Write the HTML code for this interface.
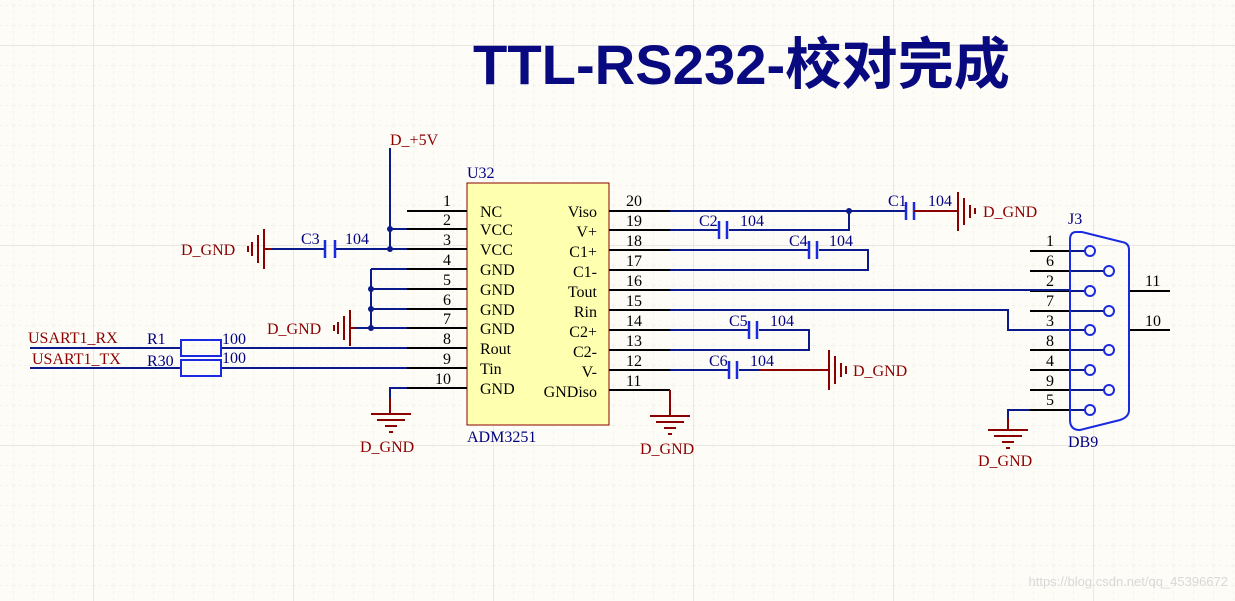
<!DOCTYPE html>
<html><head><meta charset="utf-8"><style>
html,body{margin:0;padding:0;background:#fdfcf7;}
svg{display:block}
.t{font-family:"Liberation Serif",serif;font-size:16px}
.n{fill:#000080}.r{fill:#8b0000}.k{fill:#000}
</style></head><body>
<svg width="1235" height="601" viewBox="0 0 1235 601" xmlns="http://www.w3.org/2000/svg">
<defs>
<pattern id="mg" x="13" y="5" width="20" height="20" patternUnits="userSpaceOnUse"><path d="M0 0H20M0 0V20" stroke="#ecebe4" stroke-width="1" stroke-dasharray="3 3" fill="none"/></pattern>
<pattern id="Mg" x="93" y="45" width="200" height="200" patternUnits="userSpaceOnUse"><path d="M0 0H200M0 0V200" stroke="#dddcd5" stroke-width="1.2" fill="none"/></pattern>
</defs>
<rect width="1235" height="601" fill="url(#mg)"/>
<rect width="1235" height="601" fill="url(#Mg)"/>
<text x="473" y="84" textLength="537" lengthAdjust="spacingAndGlyphs" style="font-family:'Liberation Sans','Noto Sans CJK SC',sans-serif;font-weight:bold;font-size:56px" fill="#0a0a80">TTL-RS232-校对完成</text>

<rect x="467" y="183" width="142" height="242" fill="#ffffb0" stroke="#8b0000" stroke-width="1"/>
<text x="467" y="178" class="t n">U32</text>
<text x="467" y="442" class="t n">ADM3251</text>
<g stroke="#000" stroke-width="2">
<path d="M407 211H467M407 229H467M407 249H467M407 269H467M407 289H467M407 309H467M407 328H467M407 348H467M407 368H467M407 388H467"/>
<path d="M609 211H670M609 230H670M609 250H670M609 270H670M609 290H670M609 310H670M609 330H670M609 350H670M609 370H670M609 390H670"/>
<path d="M1030 251H1070M1030 271H1070M1030 291H1070M1030 311H1070M1030 330H1070M1030 350H1070M1030 370H1070M1030 390H1070M1030 410H1070"/>
<path d="M1129 291H1170M1129 330H1170"/>
</g>
<g class="t k">
<text x="443" y="206">1</text><text x="443" y="225">2</text><text x="443" y="245">3</text><text x="443" y="265">4</text><text x="443" y="285">5</text><text x="443" y="305">6</text><text x="443" y="324">7</text><text x="443" y="344">8</text><text x="443" y="364">9</text><text x="435" y="384">10</text>
<text x="626" y="206">20</text><text x="626" y="226">19</text><text x="626" y="246">18</text><text x="626" y="266">17</text><text x="626" y="286">16</text><text x="626" y="306">15</text><text x="626" y="326">14</text><text x="626" y="346">13</text><text x="626" y="366">12</text><text x="626" y="386">11</text>
<text x="480" y="217">NC</text><text x="480" y="235">VCC</text><text x="480" y="255">VCC</text><text x="480" y="275">GND</text><text x="480" y="295">GND</text><text x="480" y="315">GND</text><text x="480" y="334">GND</text><text x="480" y="354">Rout</text><text x="480" y="374">Tin</text><text x="480" y="394">GND</text>
<g text-anchor="end"><text x="597" y="217">Viso</text><text x="597" y="237">V+</text><text x="597" y="257">C1+</text><text x="597" y="277">C1-</text><text x="597" y="297">Tout</text><text x="597" y="317">Rin</text><text x="597" y="337">C2+</text><text x="597" y="357">C2-</text><text x="597" y="377">V-</text><text x="597" y="397">GNDiso</text></g>
<text x="1046" y="246">1</text><text x="1046" y="266">6</text><text x="1046" y="286">2</text><text x="1046" y="306">7</text><text x="1046" y="326">3</text><text x="1046" y="346">8</text><text x="1046" y="366">4</text><text x="1046" y="386">9</text><text x="1046" y="405">5</text>
<text x="1145" y="286">11</text><text x="1145" y="326">10</text>
</g>

<g stroke="#0a1a8a" stroke-width="2" fill="none">
<path d="M390 148V249M390 229H407M335 249H407"/>
<path d="M371 269H407M371 269V328M371 289H407M371 309H407M355 328H407"/>
<path d="M30 348H181M221 348H407M30 368H181M221 368H407"/>
<path d="M407 388H390V398"/>
<path d="M670 211H906M849 211V230H729M670 230H719"/>
<path d="M670 250H809M819 250H868V270H670"/>
<path d="M670 290H1070M670 310H1008V330H1070"/>
<path d="M670 330H749M759 330H809V350H670"/>
<path d="M670 370H729M739 370H760"/>
<path d="M1030 410H1008V418"/>
<path d="M1070 251H1090M1070 271H1109M1070 291H1090M1070 311H1109M1070 330H1090M1070 350H1109M1070 370H1090M1070 390H1109M1070 410H1090"/>
<path d="M265 249H325"/>
</g>
<g fill="#0a1a8a"><circle cx="390" cy="229" r="3"/><circle cx="390" cy="249" r="3"/><circle cx="371" cy="289" r="3"/><circle cx="371" cy="309" r="3"/><circle cx="371" cy="328" r="3"/><circle cx="849" cy="211" r="3"/></g>

<g stroke="#1a2ae0" stroke-width="2.5">
<path d="M325 240V258M335 240V258"/>
<path d="M906 202V220M914 202V220"/>
<path d="M719 221V239M727 221V239"/>
<path d="M809 241V259M817 241V259"/>
<path d="M749 321V339M757 321V339"/>
<path d="M729 361V379M737 361V379"/>
</g>
<rect x="181" y="340" width="40" height="16" fill="none" stroke="#1a2ae0" stroke-width="2"/>
<rect x="181" y="360" width="40" height="16" fill="none" stroke="#1a2ae0" stroke-width="2"/>
<g class="t n">
<text x="301" y="244">C3</text><text x="345" y="244">104</text>
<text x="888" y="206">C1</text><text x="928" y="206">104</text>
<text x="699" y="226">C2</text><text x="740" y="226">104</text>
<text x="789" y="246">C4</text><text x="829" y="246">104</text>
<text x="729" y="326">C5</text><text x="770" y="326">104</text>
<text x="709" y="366">C6</text><text x="750" y="366">104</text>
<text x="147" y="344">R1</text><text x="222" y="344">100</text>
<text x="147" y="366">R30</text><text x="222" y="363">100</text>
<text x="1068" y="224">J3</text><text x="1068" y="447">DB9</text>
</g>

<path d="M1076 232Q1070 232 1070 240V420Q1070 430 1080 430L1120 420Q1129 417 1129 410V250Q1129 243 1122 242L1082 232Z" fill="none" stroke="#1a2ae0" stroke-width="2"/>
<g fill="#fdfcf7" stroke="#1a2ae0" stroke-width="2">
<circle cx="1090" cy="251" r="5"/><circle cx="1109" cy="271" r="5"/><circle cx="1090" cy="291" r="5"/><circle cx="1109" cy="311" r="5"/><circle cx="1090" cy="330" r="5"/><circle cx="1109" cy="350" r="5"/><circle cx="1090" cy="370" r="5"/><circle cx="1109" cy="390" r="5"/><circle cx="1090" cy="410" r="5"/>
</g>

<g stroke="#8b0000" stroke-width="2" fill="none">
<path d="M390 398V414M371 414H411M377 420H405M385 426H397M389 432H393"/>
<path d="M670 390V415M650 416H690M656 422H684M664 428H676M668 434H672"/>
<path d="M1008 418V430M988 430H1028M994 436H1022M1002 442H1014M1006 448H1010"/>
<path d="M265 249H272M264 229V269M258 235V263M252 242V256M248 246V252"/>
<path d="M355 328H350M350 310V346M344 316V340M338 322V334M334 325V331"/>
<path d="M914 211H958M958 192V231M964 198V225M970 205V218M975 208V214"/>
<path d="M760 370H829M829 350V390M835 356V384M841 363V377M846 366V374"/>
</g>
<g class="t r">
<text x="390" y="145">D_+5V</text>
<text x="181" y="255">D_GND</text>
<text x="267" y="334">D_GND</text>
<text x="28" y="343">USART1_RX</text>
<text x="32" y="364">USART1_TX</text>
<text x="360" y="452">D_GND</text>
<text x="640" y="454">D_GND</text>
<text x="978" y="466">D_GND</text>
<text x="983" y="217">D_GND</text>
<text x="853" y="376">D_GND</text>
</g>
<text x="1228" y="586" text-anchor="end" style="font-family:'Liberation Sans',sans-serif;font-size:13px" fill="#d8d8d8">https://blog.csdn.net/qq_45396672</text>
</svg>
</body></html>
